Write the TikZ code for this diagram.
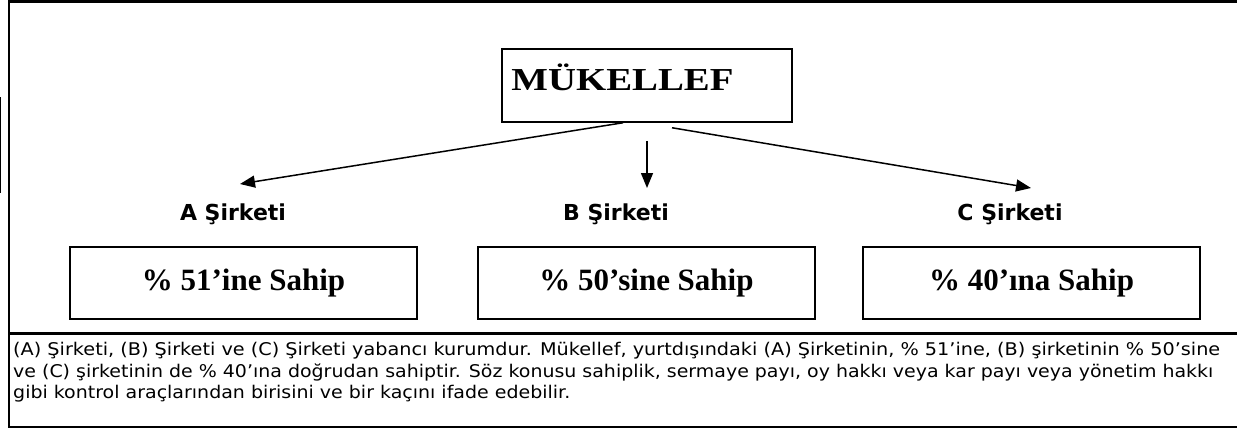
\documentclass[tikz,border=0pt]{standalone}
\usepackage{fontspec}
\usepackage{graphicx}
\setmainfont{Liberation Serif}
\newfontfamily\labelsans{DejaVu Sans}
\usetikzlibrary{arrows.meta}

\begin{document}
\begin{tikzpicture}[x=1pt,y=-1pt,
  outline/.style={line width=2.5pt,line cap=rect},
  ownbox/.style={draw,line width=1.5pt,inner sep=0pt,
    font=\fontsize{31}{34}\selectfont\bfseries},
  company/.style={anchor=base,inner sep=0pt,
    font=\labelsans\fontsize{22}{26}\selectfont\bfseries},
  note/.style={anchor=base west,inner sep=0pt,
    font=\labelsans\fontsize{17.5}{21}\selectfont},
  link/.style={line width=1.5pt,-{Triangle[length=15pt,width=12pt]}}
]
\useasboundingbox (0,0) rectangle (1237,428);

% page frame and the rule above the note
\draw[outline] (1240,1.5) -- (9,1.5) -- (9,430);
\draw[outline] (9,333.5) -- (1240,333.5);
\draw[line width=1.5pt] (9,427) -- (1240,427);
\draw[line width=1.2pt] (0.8,97) -- (0.8,193);

% taxpayer
\node[draw,line width=1.5pt,minimum width=290pt,minimum height=73pt] (mk) at (647,85.5) {};
\node[anchor=base west,inner sep=0pt,font=\fontsize{32}{35}\selectfont\bfseries]
  (mkt) at ([xshift=10pt,yshift=-5.5pt]mk.west) {\resizebox{222pt}{\height}{MÜKELLEF}};

% companies
\node[company] (la) at (233,220) {A Şirketi};
\node[company] (lb) at (616,220) {B Şirketi};
\node[company] (lc) at (1010,220) {C Şirketi};

% ownership shares
\node[ownbox,minimum width=347pt,minimum height=72pt] (pa) at (243.5,283) {\% 51’ine Sahip};
\node[ownbox,minimum width=337pt,minimum height=72pt] (pb) at (646.5,283) {\% 50’sine Sahip};
\node[ownbox,minimum width=337pt,minimum height=72pt] (pc) at (1031.5,283) {\% 40’ına Sahip};

% arrows from the taxpayer
\coordinate (sa) at ([xshift=-24pt]mk.south);
\coordinate (sb) at ([yshift=-18pt]mk.south);
\coordinate (sc) at ([xshift=25pt,yshift=-5pt]mk.south);
\coordinate (ta) at (240,184);
\coordinate (tb) at (647,188);
\coordinate (tc) at (1031,188);
\draw[link] (sa) -- (ta);
\draw[link] (sb) -- (tb);
\draw[link] (sc) -- (tc);

% explanatory note
\node[note] (n1) at (13,355) {\resizebox{1207pt}{\height}{(A) Şirketi, (B) Şirketi ve (C) Şirketi yabancı kurumdur. Mükellef, yurtdışındaki (A) Şirketinin, \% 51’ine, (B) şirketinin \% 50’sine}};
\node[note] (n2) at (13,377) {\resizebox{1200pt}{\height}{ve (C) şirketinin de \% 40’ına doğrudan sahiptir. Söz konusu sahiplik, sermaye payı, oy hakkı veya kar payı veya yönetim hakkı}};
\node[note] (n3) at (13,398.5) {\resizebox{557pt}{\height}{gibi kontrol araçlarından birisini ve bir kaçını ifade edebilir.}};
\end{tikzpicture}
\end{document}
